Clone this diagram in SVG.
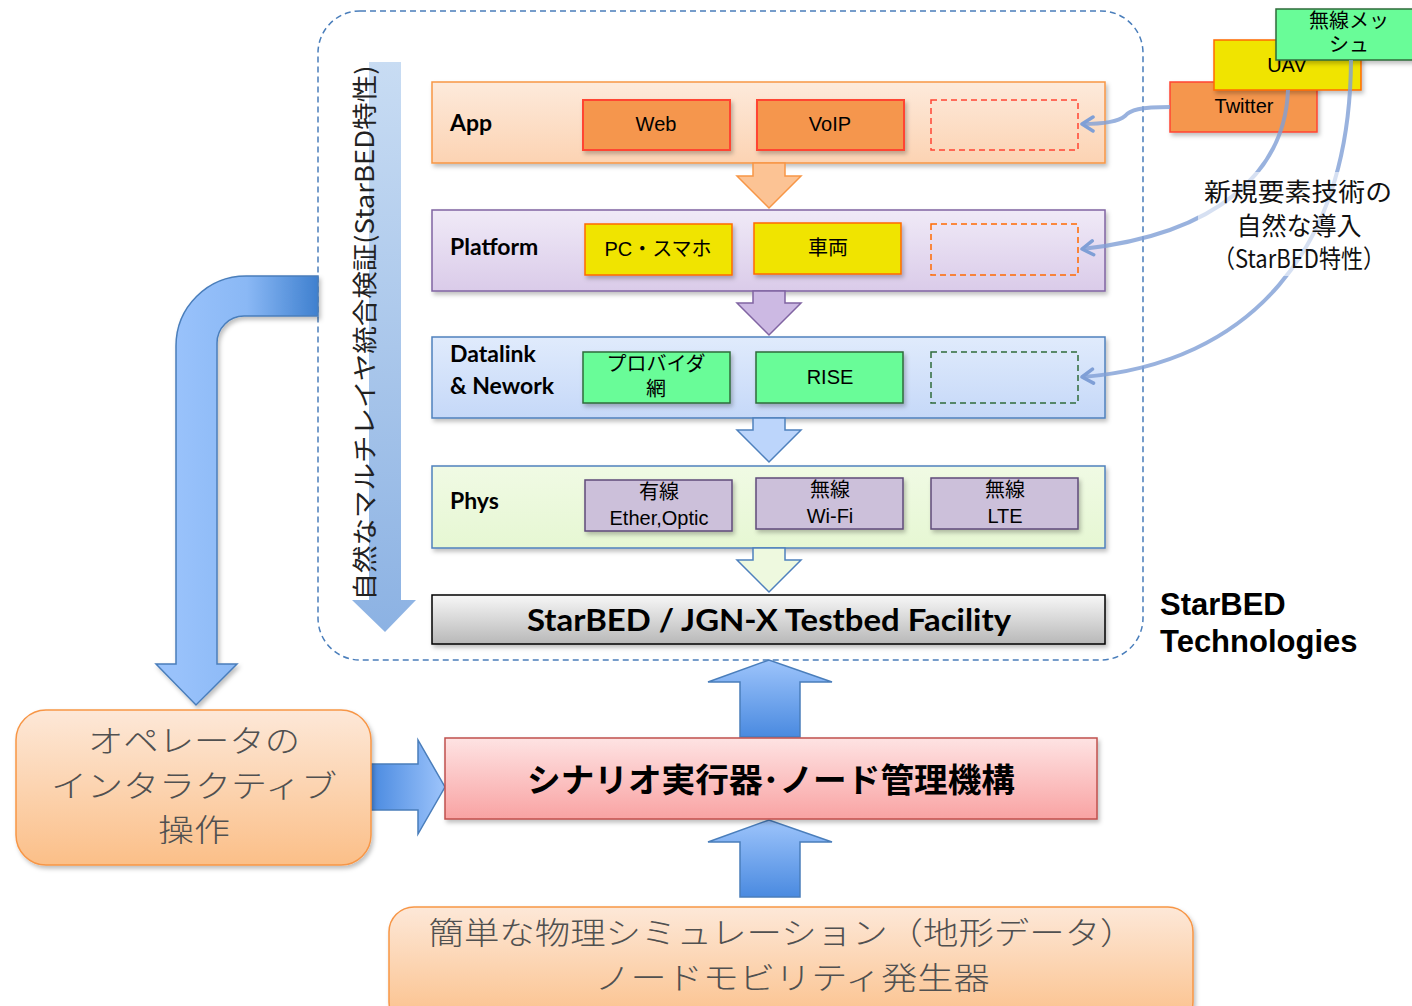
<svg xmlns="http://www.w3.org/2000/svg" width="1412" height="1006" viewBox="0 0 1412 1006">
<style>
.jp{font-family:"Noto Sans CJK JP","Noto Sans",sans-serif}
.lat{font-family:"Liberation Sans",Arial,sans-serif}
.cal{font-family:Lato,"Open Sans",sans-serif;font-weight:bold}
.lbl{font-family:Lato,"Open Sans",sans-serif;font-weight:bold;font-size:23px;fill:#000}
.box{font-family:"Liberation Sans","Noto Sans CJK JP",sans-serif;font-size:20px;fill:#000;text-anchor:middle}
.curve{fill:none;stroke:#7f9fd6;stroke-width:4;stroke-opacity:0.8}
.gray{fill:#505050;font-weight:300;text-anchor:middle}
</style>
<defs>
<filter id="sh" x="-5%" y="-10%" width="115%" height="130%"><feDropShadow dx="2" dy="3" stdDeviation="2" flood-color="#000" flood-opacity="0.25"/></filter>
<linearGradient id="gApp" x1="0" y1="0" x2="0" y2="1"><stop offset="0" stop-color="#fdeadb"/><stop offset="1" stop-color="#fcd3b3"/></linearGradient>
<linearGradient id="gPlat" x1="0" y1="0" x2="0" y2="1"><stop offset="0" stop-color="#f0eaf7"/><stop offset="1" stop-color="#dacbe9"/></linearGradient>
<linearGradient id="gData" x1="0" y1="0" x2="0" y2="1"><stop offset="0" stop-color="#e0ebfc"/><stop offset="1" stop-color="#c5d8f8"/></linearGradient>
<linearGradient id="gPhys" x1="0" y1="0" x2="0" y2="1"><stop offset="0" stop-color="#f0fae4"/><stop offset="1" stop-color="#e6f7d3"/></linearGradient>
<linearGradient id="gBed" x1="0" y1="0" x2="0" y2="1"><stop offset="0" stop-color="#f7f7f7"/><stop offset="1" stop-color="#b8b8b8"/></linearGradient>
<linearGradient id="gPeach" x1="0" y1="0" x2="0" y2="1"><stop offset="0" stop-color="#fde8d8"/><stop offset="1" stop-color="#fbbf88"/></linearGradient>
<linearGradient id="gPink" x1="0" y1="0" x2="0" y2="1"><stop offset="0" stop-color="#fee3e3"/><stop offset="1" stop-color="#f9a3a3"/></linearGradient>
<linearGradient id="gVert" x1="0" y1="0" x2="0" y2="1"><stop offset="0" stop-color="#c8dcf3"/><stop offset="1" stop-color="#8cb2e3"/></linearGradient>
<linearGradient id="gBend" gradientUnits="userSpaceOnUse" x1="176" y1="0" x2="318" y2="0"><stop offset="0" stop-color="#99c2fb"/><stop offset="0.5" stop-color="#8ab8f5"/><stop offset="1" stop-color="#3f80cf"/></linearGradient>
<linearGradient id="gRight" gradientUnits="userSpaceOnUse" x1="371" y1="0" x2="445" y2="0"><stop offset="0" stop-color="#4a8ae0"/><stop offset="1" stop-color="#9dc4fb"/></linearGradient>
<linearGradient id="gUp" x1="0" y1="0" x2="0" y2="1"><stop offset="0" stop-color="#9dc4fb"/><stop offset="1" stop-color="#4a8ae0"/></linearGradient>
<marker id="ah" viewBox="0 0 16 18" refX="14" refY="9" markerWidth="16" markerHeight="18" markerUnits="userSpaceOnUse" orient="auto">
<path d="M3,2 L14,9 L3,16" fill="none" stroke="#7f9fd6" stroke-width="3.5" stroke-linecap="round" stroke-linejoin="round"/>
</marker>
</defs>

<rect width="1412" height="1006" fill="#fff"/>

<g id="container">
<rect x="318" y="11" width="825" height="649" rx="42" fill="none" stroke="#4a7ebb" stroke-width="1.5" stroke-dasharray="6,4"/>
</g>

<g id="multilayer">
<path d="M369,62 L401,62 L401,600 L416,600 L385,632 L352,600 L369,600 Z" fill="url(#gVert)"/>
<text class="jp" font-size="25" text-anchor="middle" fill="#222" transform="translate(374,333) rotate(-90)" textLength="535" lengthAdjust="spacingAndGlyphs">自然なマルチレイヤ統合検証(StarBED特性)</text>
</g>

<g id="app">
<rect x="432" y="82" width="673" height="81" fill="url(#gApp)" stroke="#f79646" stroke-width="1.5" filter="url(#sh)"/>
<text class="lbl" x="450" y="131">App</text>
<rect x="583" y="100" width="147" height="50" fill="#f5964e" stroke="#ff4433" stroke-width="2" filter="url(#sh)"/>
<text class="box" x="656" y="131">Web</text>
<rect x="757" y="100" width="147" height="50" fill="#f5964e" stroke="#ff4433" stroke-width="2" filter="url(#sh)"/>
<text class="box" x="830" y="131">VoIP</text>
<rect x="931" y="100" width="147" height="50" fill="none" stroke="#ff4433" stroke-width="1.5" stroke-dasharray="6,4"/>
</g>

<g id="platform">
<rect x="432" y="210" width="673" height="81" fill="url(#gPlat)" stroke="#8064a2" stroke-width="1.5" filter="url(#sh)"/>
<text class="lbl" x="450" y="255">Platform</text>
<rect x="585" y="224" width="147" height="51" fill="#f0e400" stroke="#ff6a00" stroke-width="1.5" filter="url(#sh)"/>
<text class="box jp" x="658" y="256" font-size="19">PC・スマホ</text>
<rect x="754" y="223" width="147" height="51" fill="#f0e400" stroke="#ff6a00" stroke-width="1.5" filter="url(#sh)"/>
<text class="box jp" x="828" y="255" font-size="19">車両</text>
<rect x="931" y="224" width="147" height="51" fill="none" stroke="#ff6a00" stroke-width="1.5" stroke-dasharray="6,4"/>
</g>

<g id="datalink">
<rect x="432" y="337" width="673" height="81" fill="url(#gData)" stroke="#4f81bd" stroke-width="1.5" filter="url(#sh)"/>
<text class="lbl" x="450" y="362">Datalink</text>
<text class="lbl" x="450" y="394">&amp; Nework</text>
<rect x="583" y="352" width="147" height="51" fill="#69fc98" stroke="#2f6b3a" stroke-width="1.5" filter="url(#sh)"/>
<text class="box jp" x="656" y="371" font-size="19">プロバイダ</text>
<text class="box jp" x="656" y="396" font-size="19">網</text>
<rect x="756" y="352" width="147" height="51" fill="#69fc98" stroke="#2f6b3a" stroke-width="1.5" filter="url(#sh)"/>
<text class="box" x="830" y="384">RISE</text>
<rect x="931" y="352" width="147" height="51" fill="none" stroke="#2f6b3a" stroke-width="1.5" stroke-dasharray="6,4"/>
</g>

<g id="phys">
<rect x="432" y="466" width="673" height="82" fill="url(#gPhys)" stroke="#4f81bd" stroke-width="1.5" filter="url(#sh)"/>
<text class="lbl" x="450" y="509">Phys</text>
<rect x="585" y="480" width="147" height="51" fill="#ccc0da" stroke="#5f4b7a" stroke-width="1.5" filter="url(#sh)"/>
<text class="box jp" x="659" y="499" font-size="19">有線</text>
<text class="box" x="659" y="525">Ether,Optic</text>
<rect x="756" y="478" width="147" height="51" fill="#ccc0da" stroke="#5f4b7a" stroke-width="1.5" filter="url(#sh)"/>
<text class="box jp" x="830" y="497" font-size="19">無線</text>
<text class="box" x="830" y="523">Wi-Fi</text>
<rect x="931" y="478" width="147" height="51" fill="#ccc0da" stroke="#5f4b7a" stroke-width="1.5" filter="url(#sh)"/>
<text class="box jp" x="1005" y="497" font-size="19">無線</text>
<text class="box" x="1005" y="523">LTE</text>
</g>

<g id="facility">
<rect x="432" y="595" width="673" height="49" fill="url(#gBed)" stroke="#000" stroke-width="1.5" filter="url(#sh)"/>
<text class="cal" x="769" y="631" font-size="31" text-anchor="middle" textLength="484" lengthAdjust="spacingAndGlyphs">StarBED / JGN-X Testbed Facility</text>
</g>

<g id="tech">
<text class="lat" font-weight="bold" font-size="31" x="1160" y="615">StarBED</text>
<text class="lat" font-weight="bold" font-size="31" x="1160" y="652">Technologies</text>
</g>

<g id="twitter">
<rect x="1170" y="82" width="147" height="50" fill="#f5964e" stroke="#ff4433" stroke-width="1.5" filter="url(#sh)"/>
<text class="box" x="1244" y="113">Twitter</text>
</g>
<g id="uav">
<rect x="1214" y="40" width="147" height="50" fill="#f0e400" stroke="#ff6a00" stroke-width="1.5" filter="url(#sh)"/>
<text class="box" x="1287" y="72">UAV</text>
</g>
<g id="mesh">
<rect x="1276" y="9" width="140" height="51" fill="#69fc98" stroke="#2f6b3a" stroke-width="1.5" filter="url(#sh)"/>
<text class="box jp" x="1349" y="28" font-size="19">無線メッ</text>
<text class="box jp" x="1349" y="52" font-size="19">シュ</text>
</g>

<g id="connectors">
<path d="M753,163 L785,163 L785,176 L801,176 L769,208 L737,176 L753,176 Z" fill="#fcc394" stroke="#f79646" stroke-width="1.5"/>
<path d="M753,291 L785,291 L785,303 L801,303 L769,335 L737,303 L753,303 Z" fill="#ccb9e3" stroke="#8064a2" stroke-width="1.5"/>
<path d="M753,418 L785,418 L785,430 L801,430 L769,462 L737,430 L753,430 Z" fill="#bcd5fb" stroke="#4f81bd" stroke-width="1.5"/>
<path d="M753,548 L785,548 L785,560 L801,560 L769,592 L737,560 L753,560 Z" fill="#eef9df" stroke="#4f81bd" stroke-width="1.5"/>
<path class="curve" d="M1170,107 C1140,107 1130,110 1125,116 C1118,122 1100,124 1082,124" marker-end="url(#ah)"/>
<path class="curve" d="M1288,90 C1285,170 1220,234 1082,249" marker-end="url(#ah)"/>
<path class="curve" d="M1351,60 C1350,250 1250,364 1082,377" marker-end="url(#ah)"/>
<path d="M318,276 L246,276 A70,70 0 0 0 176,346 L176,664 L156,664 L196,705 L237,664 L217,664 L217,343 A27,27 0 0 1 244,316 L318,316 Z" fill="url(#gBend)" stroke="#4a7ebb" stroke-width="1.5" filter="url(#sh)"/>
<path d="M371,764 L418,764 L418,740 L445,787 L418,834 L418,810 L371,810 Z" fill="url(#gRight)" stroke="#4a7ebb" stroke-width="1.5"/>
<path d="M740,737 L740,682 L708,682 L769,660 L832,682 L800,682 L800,737 Z" fill="url(#gUp)" stroke="#4a7ebb" stroke-width="1.5"/>
<path d="M740,897 L740,842 L708,842 L769,820 L832,842 L800,842 L800,897 Z" fill="url(#gUp)" stroke="#4a7ebb" stroke-width="1.5"/>
</g>

<g id="newtech-label">
<rect x="1198" y="172" width="200" height="104" fill="#fff" fill-opacity="0.6"/>
<text class="jp" font-size="25" text-anchor="middle" fill="#111" x="1298" y="201" textLength="188" lengthAdjust="spacingAndGlyphs">新規要素技術の</text>
<text class="jp" font-size="25" text-anchor="middle" fill="#111" x="1299" y="235">自然な導入</text>
<text class="jp" font-size="25" text-anchor="middle" fill="#111" x="1299" y="268" textLength="172" lengthAdjust="spacingAndGlyphs">（StarBED特性）</text>
</g>

<g id="operator">
<rect x="16" y="710" width="355" height="155" rx="30" fill="url(#gPeach)" stroke="#f79646" stroke-width="1.5" filter="url(#sh)"/>
<text class="jp gray" font-size="31" x="194" y="752" textLength="212" lengthAdjust="spacingAndGlyphs">オペレータの</text>
<text class="jp gray" font-size="31" x="194" y="797" textLength="286" lengthAdjust="spacingAndGlyphs">インタラクティブ</text>
<text class="jp gray" font-size="31" x="194" y="841" textLength="72" lengthAdjust="spacingAndGlyphs">操作</text>
</g>

<g id="scenario">
<rect x="445" y="738" width="652" height="81" fill="url(#gPink)" stroke="#c0504d" stroke-width="1.5" filter="url(#sh)"/>
<text class="jp" font-weight="bold" font-size="33" x="771" y="792" text-anchor="middle" fill="#000" textLength="488" lengthAdjust="spacingAndGlyphs">シナリオ実行器･ノード管理機構</text>
</g>

<g id="simulation">
<rect x="389" y="907" width="804" height="120" rx="25" fill="url(#gPeach)" stroke="#f79646" stroke-width="1.5" filter="url(#sh)"/>
<text class="jp gray" font-size="31" x="782" y="944" textLength="707" lengthAdjust="spacingAndGlyphs">簡単な物理シミュレーション（地形データ）</text>
<text class="jp gray" font-size="31" x="792" y="989" textLength="395" lengthAdjust="spacingAndGlyphs">ノードモビリティ発生器</text>
</g>
</svg>
